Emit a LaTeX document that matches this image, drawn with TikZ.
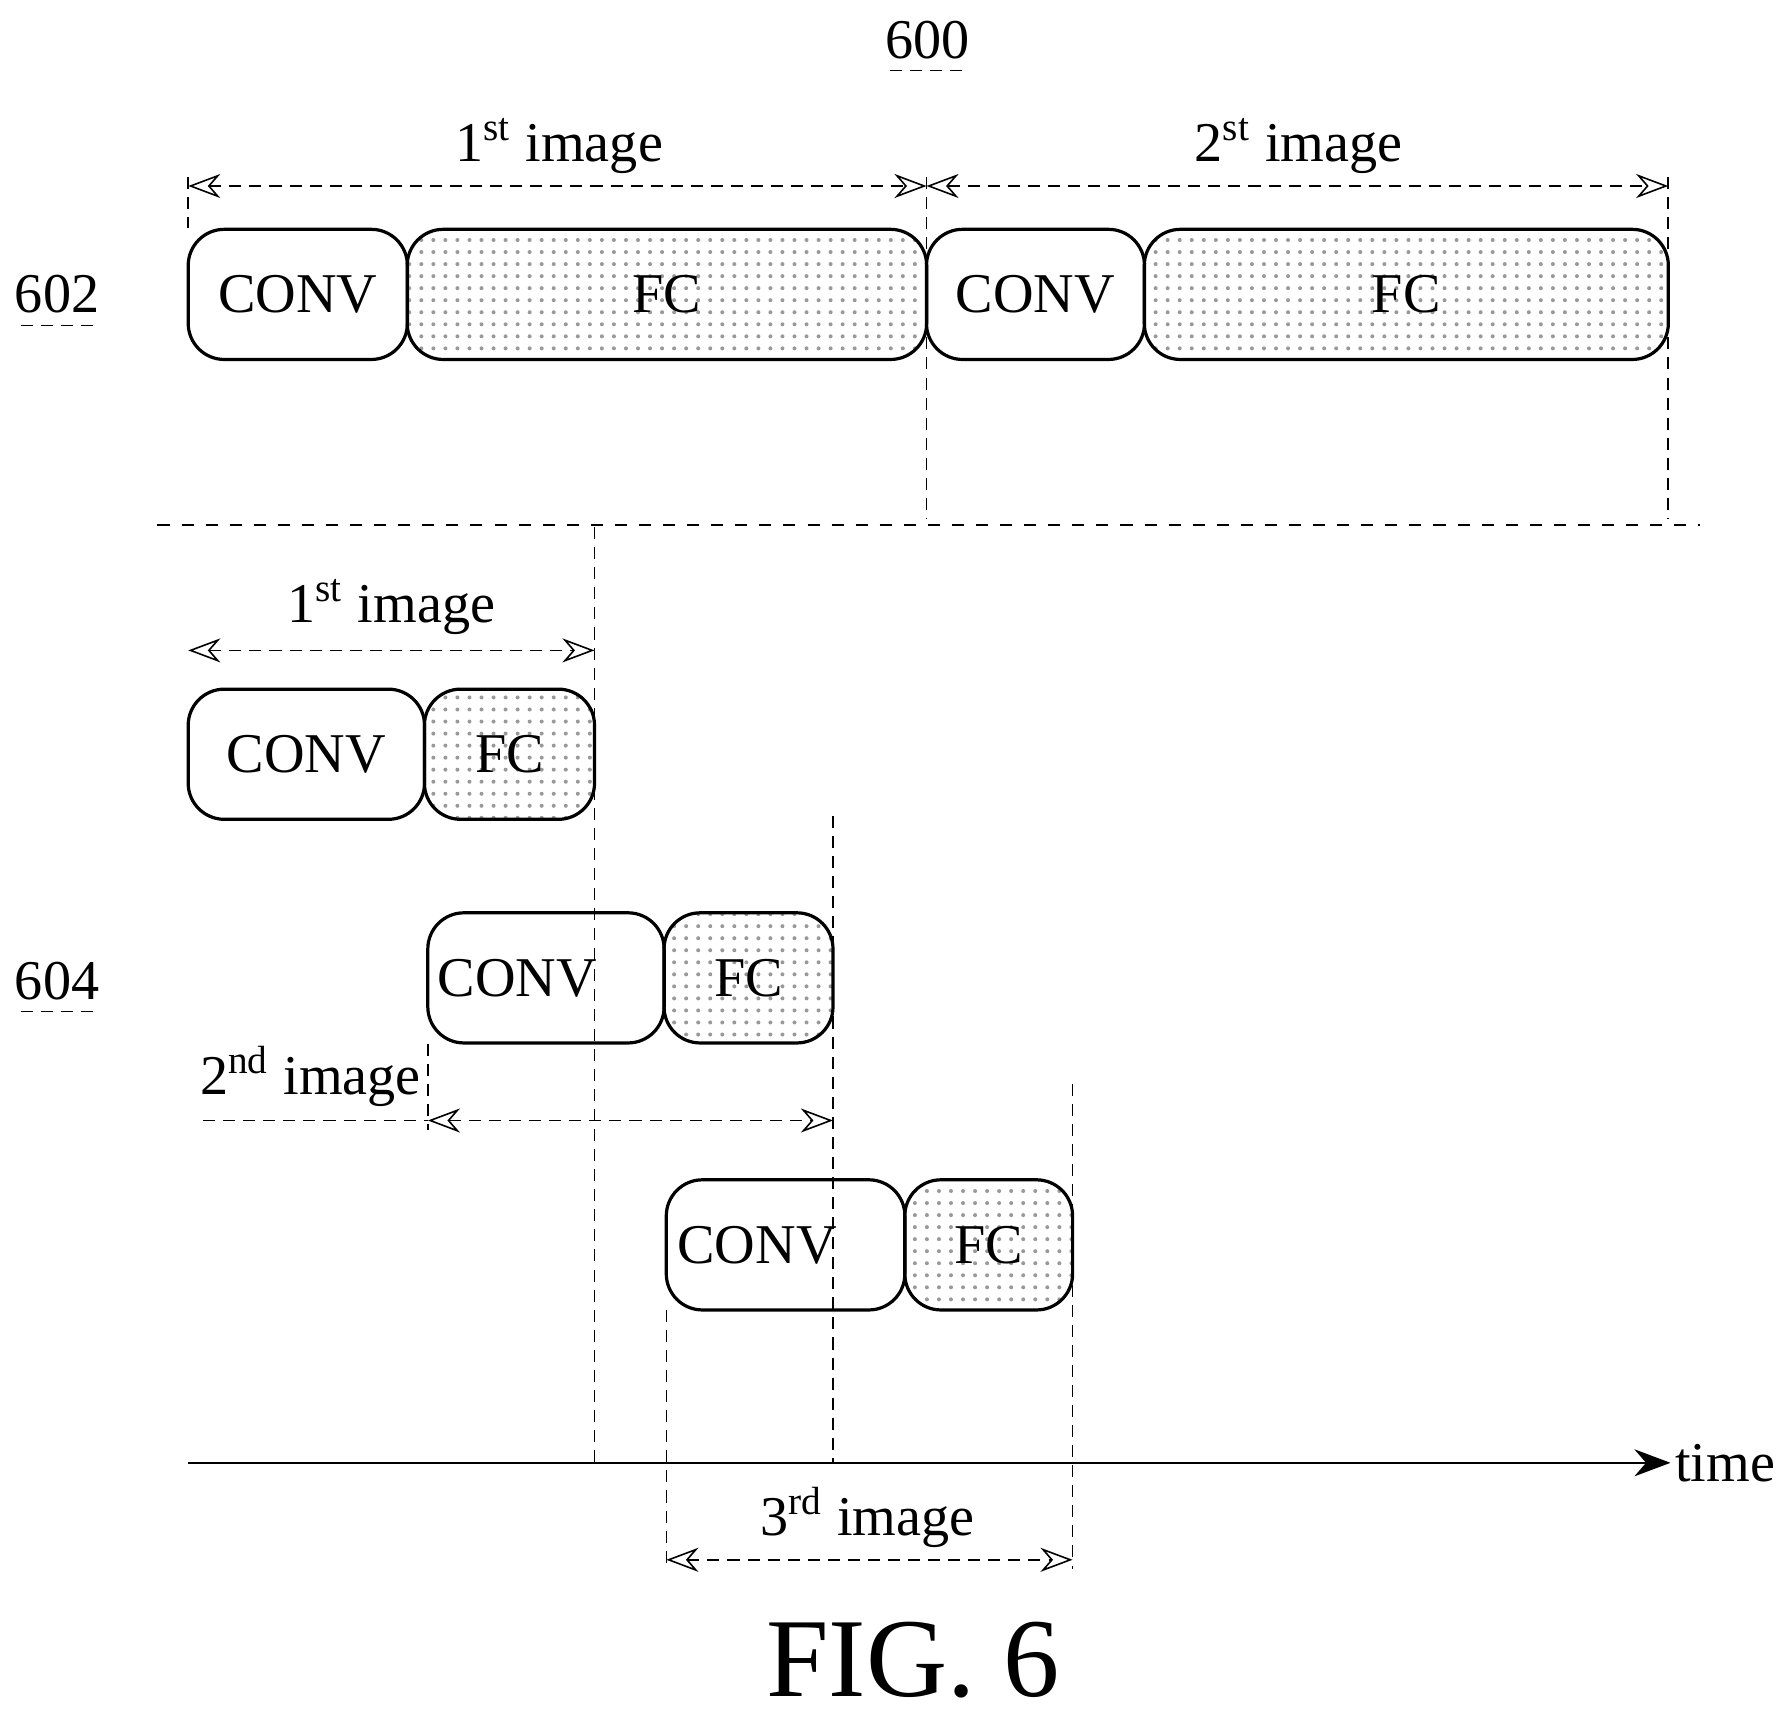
\documentclass[tikz,border=0pt]{standalone}
\usepackage{fontspec}
\setmainfont{Liberation Serif}
\usetikzlibrary{patterns,arrows.meta}
\tikzset{
  box/.style={draw,thick,rounded corners=9pt,minimum height=1.14cm,inner sep=0pt,font=\fontsize{14}{17}\selectfont},
  conv/.style={box},
  fc/.style={box,pattern=dots,pattern color=gray!80},
  guide/.style={densely dashed,thin},
  dim/.style={densely dashed,thin,{Stealth[open,length=8pt]}-{Stealth[open,length=8pt]}},
  lbl/.style={font=\fontsize{14}{17}\selectfont},
}
\begin{document}
\begin{tikzpicture}[x=0.01cm,y=-0.01cm]
\useasboundingbox (0,0) rectangle (1560,1508);
% labels
\node[lbl] (n600) at (813,35) {600};
\draw[densely dashed,very thin] (780,62) -- (846,62);
\node[lbl] (n602) at (50,258) {602};
\draw[densely dashed,very thin] (18,285) -- (84,285);
\node[lbl] (n604) at (50,860) {604};
\draw[densely dashed,very thin] (18,886) -- (84,886);
% top row
\node[conv,minimum width=1.92cm] (c1) at (261,258) {CONV};
\node[fc,minimum width=4.55cm] (f1) at (584.5,258) {FC};
\node[conv,minimum width=1.91cm] (c2) at (907.5,258) {CONV};
\node[fc,minimum width=4.59cm] (f2) at (1232.5,258) {FC};
\coordinate (t0) at (165,155); \coordinate (t1) at (812,155); \coordinate (t2) at (1462,155);
\draw[guide] (t0) -- (165,200);
\draw[guide] (t1) -- (812,455);
\draw[guide] (t2) -- (1462,455);
\draw[dim] (165,163) -- (812,163);
\draw[dim] (812,163) -- (1462,163);
\node[lbl] (i1) at (490,128) {1\textsuperscript{st} image};
\node[lbl] (i2) at (1138,128) {2\textsuperscript{st} image};
% separator
\draw[dashed] (138,460) -- (1490,460);
% bottom rows
\node[conv,minimum width=2.07cm] (c3) at (268.5,661) {CONV};
\node[fc,minimum width=1.49cm] (f3) at (446.5,661) {FC};
\node[conv,minimum width=2.07cm] (c4) at (478.5,857) {\hspace*{-0.5cm}CONV};
\node[fc,minimum width=1.48cm] (f4) at (656,857) {FC};
\node[conv,minimum width=2.09cm] (c5) at (688.5,1091) {\hspace*{-0.5cm}CONV};
\node[fc,minimum width=1.47cm] (f5) at (866.5,1091) {FC};
\draw[guide] (521,462) -- (521,1282);
\draw[guide] (730,715) -- (730,1282);
\draw[guide] (375,915) -- (375,990);
\draw[guide] (940,950) -- (940,1375);
\draw[guide] (584,1148) -- (584,1375);
\draw[dim] (165,570) -- (521,570);
\node[lbl] (i3) at (343,532) {1\textsuperscript{st} image};
\draw[densely dashed,thin] (178,982) -- (375,982);
\draw[dim] (375,982) -- (730,982);
\node[lbl] (i4) at (272,943) {2\textsuperscript{nd} image};
\draw[dim] (584,1367) -- (940,1367);
\node[lbl] (i5) at (760,1330) {3\textsuperscript{rd} image};
% time axis
\node[lbl,anchor=west,inner sep=1pt] (time) at (1464,1282) {time};
\draw[thin,-{Stealth[length=9pt]}] (165,1282) -- (time.west);
\node[font=\fontsize{28}{34}\selectfont] (fig) at (800,1455) {FIG. 6};
\end{tikzpicture}
\end{document}
